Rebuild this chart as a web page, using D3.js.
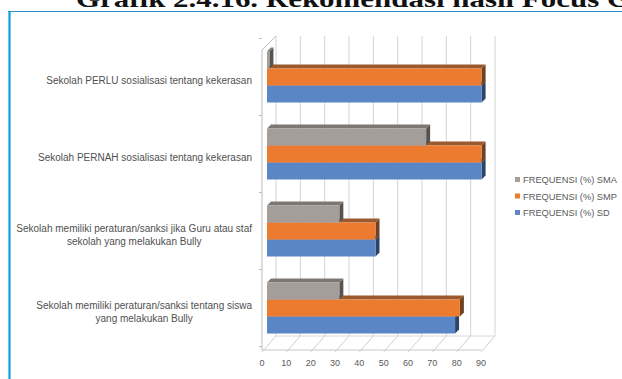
<!DOCTYPE html>
<html><head><meta charset="utf-8">
<script src="https://cdn.jsdelivr.net/npm/d3@7"></script>
<style>html,body{margin:0;padding:0;background:#fff;overflow:hidden}</style>
</head><body>
<svg id="c" width="622" height="379"></svg>
<script>
const categories = [
  ["Sekolah PERLU sosialisasi tentang kekerasan"],
  ["Sekolah PERNAH sosialisasi tentang kekerasan"],
  ["Sekolah memiliki peraturan/sanksi jika Guru atau staf", "sekolah yang melakukan Bully"],
  ["Sekolah memiliki peraturan/sanksi tentang siswa", "yang melakukan Bully"]
];
const seriesNames = ["FREQUENSI (%) SMA", "FREQUENSI (%) SMP", "FREQUENSI (%) SD"];
const sma = [1, 66, 30, 30];
const smp = [89, 89, 45, 80];
const sd  = [89, 89, 45, 78];
const tickValues = [0, 10, 20, 30, 40, 50, 60, 70, 80, 90];
const titleText = "Grafik 2.4.16. Rekomendasi hasil Focus Group";

const seriesData = [sma, smp, sd];
const colors = [
  {front:"#a39e99", top:"#7c7772", side:"#55524f"},
  {front:"#ec7a2f", top:"#9a5a2e", side:"#6e4222"},
  {front:"#5a86c6", top:"#3f5f92", side:"#2c4468"}
];

const svg = d3.select("#c");

// title (clipped at top, as in the source image)
svg.append("text").attr("x", 76).attr("y", 7)
  .attr("font-family", "Liberation Serif, Times New Roman, serif")
  .attr("font-weight", "bold").attr("font-size", 23).attr("fill", "#111")
  .attr("textLength", 618).attr("lengthAdjust", "spacingAndGlyphs")
  .text(titleText);

// frame
svg.append("line").attr("x1", 8).attr("x2", 622).attr("y1", 11.5).attr("y2", 11.5)
  .attr("stroke", "#2590c4").attr("stroke-width", 1.2);
svg.append("line").attr("x1", 9.5).attr("x2", 9.5).attr("y1", 11).attr("y2", 379)
  .attr("stroke", "#0aa0e0").attr("stroke-width", 2.2);

const DX = 14, DY = -14;
const xFront = d3.scaleLinear().domain([0, 90]).range([262, 481]);
const xBar = d3.scaleLinear().domain([0, 90]).range([267, 484]);
const yFloor = 350, yTop = 50;

const catIdx = categories.map((d, i) => i);
const yBand = d3.scaleBand().domain(catIdx).range([38.5, 346.5]).padding(0);

const g = svg.append("g");
tickValues.forEach(v => {
  g.append("line").attr("x1", xFront(v) + DX).attr("x2", xFront(v) + DX)
    .attr("y1", yTop + DY).attr("y2", yFloor + DY)
    .attr("stroke", "#d4d4d4").attr("stroke-width", 1);
  g.append("line").attr("x1", xFront(v)).attr("y1", yFloor + 2)
    .attr("x2", xFront(v) + DX).attr("y2", yFloor + DY)
    .attr("stroke", "#cfcfcf").attr("stroke-width", 1);
});
g.append("line").attr("x1", xFront(0)).attr("x2", xFront(90)).attr("y1", yFloor).attr("y2", yFloor)
  .attr("stroke", "#c8c8c8");
g.append("line").attr("x1", xFront(0) + DX).attr("x2", xFront(90) + DX).attr("y1", yFloor + DY).attr("y2", yFloor + DY)
  .attr("stroke", "#d8d8d8");
g.append("line").attr("x1", xFront(0)).attr("x2", xFront(0)).attr("y1", yTop).attr("y2", yFloor)
  .attr("stroke", "#bdbdbd");
g.append("line").attr("x1", xFront(0)).attr("x2", xFront(0) + DX).attr("y1", yTop).attr("y2", yTop + DY)
  .attr("stroke", "#bdbdbd");
catIdx.concat([4]).forEach(i => {
  const yy = i < 4 ? yBand(i) : yBand.range()[1];
  g.append("line").attr("x1", xFront(0) - 3).attr("x2", xFront(0)).attr("y1", yy).attr("y2", yy)
    .attr("stroke", "#bdbdbd");
});

tickValues.forEach(v => {
  svg.append("text").attr("x", xFront(v)).attr("y", 366)
    .attr("text-anchor", "middle").attr("font-family", "Liberation Sans, Arial, sans-serif")
    .attr("font-size", 9).attr("fill", "#595959").text(v);
});

const d = 4;
const bars = svg.append("g");
catIdx.forEach(ci => {
  const c = yBand(ci) + yBand.bandwidth() / 2;
  const inner = d3.scaleBand().domain([0, 1, 2]).range([c - 25.5, c + 25.5]);
  [2, 1, 0].forEach(si => {
    const v = seriesData[si][ci];
    const x0 = xBar(0), x1 = xBar(v);
    const y0 = inner(si), h = inner.bandwidth();
    const col = colors[si];
    bars.append("path").attr("d", `M${x1},${y0}L${x1 + d},${y0 - d}L${x1 + d},${y0 + h - d}L${x1},${y0 + h}Z`)
      .attr("fill", col.side);
    bars.append("path").attr("d", `M${x0},${y0}L${x0 + d},${y0 - d}L${x1 + d},${y0 - d}L${x1},${y0}Z`)
      .attr("fill", col.top);
    bars.append("rect").attr("x", x0).attr("y", y0).attr("width", Math.max(0, x1 - x0)).attr("height", h)
      .attr("fill", col.front);
  });
});

catIdx.forEach(ci => {
  const c = yBand(ci) + yBand.bandwidth() / 2 + 4;
  const lines = categories[ci];
  const t = svg.append("text").attr("font-family", "Liberation Sans, Arial, sans-serif")
    .attr("font-size", 10).attr("fill", "#505050");
  const lh = 13;
  const startY = c - (lines.length - 1) * lh / 2 + 3;
  const spans = lines.map((s, k) => t.append("tspan").attr("y", startY + k * lh).text(s));
  const widths = spans.map(s => s.node().getComputedTextLength());
  const maxW = d3.max(widths);
  const cx = 252 - maxW / 2;
  spans.forEach(s => s.attr("x", cx).attr("text-anchor", "middle"));
});

seriesNames.forEach((n, i) => {
  const yy = 180 + i * 16.5;
  svg.append("rect").attr("x", 515).attr("y", yy - 3).attr("width", 5).attr("height", 5)
    .attr("fill", colors[i].front);
  svg.append("text").attr("x", 523).attr("y", yy + 3)
    .attr("font-family", "Liberation Sans, Arial, sans-serif").attr("font-size", 9.3)
    .attr("fill", "#595959").text(n);
});
</script>
</body></html>
